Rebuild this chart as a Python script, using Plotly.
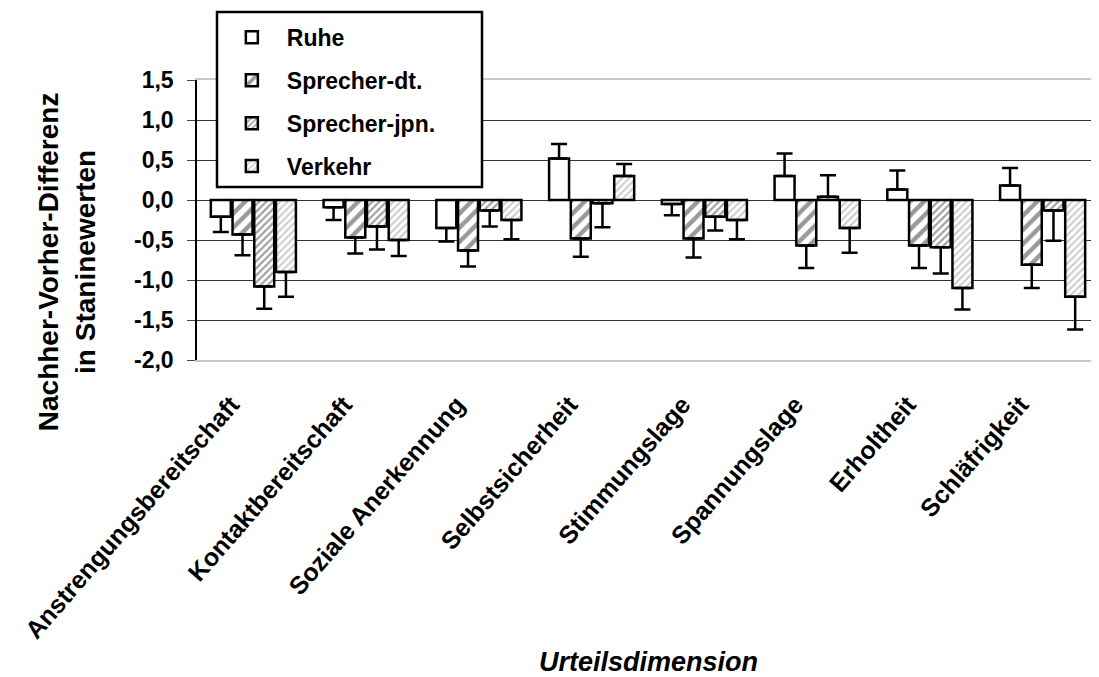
import plotly.graph_objects as go

categories = ["Anstrengungsbereitschaft", "Kontaktbereitschaft", "Soziale Anerkennung",
              "Selbstsicherheit", "Stimmungslage", "Spannungslage", "Erholtheit", "Schläfrigkeit"]

series_names = ["Ruhe", "Sprecher-dt.", "Sprecher-jpn.", "Verkehr"]

ruhe = [-0.21, -0.09, -0.35, 0.52, -0.05, 0.30, 0.13, 0.18]
ruhe_err = [0.19, 0.16, 0.17, 0.18, 0.14, 0.28, 0.24, 0.22]

sprecher_dt = [-0.43, -0.47, -0.63, -0.48, -0.48, -0.57, -0.57, -0.81]
sprecher_dt_err = [0.26, 0.20, 0.20, 0.23, 0.24, 0.28, 0.28, 0.29]

sprecher_jpn = [-1.08, -0.33, -0.13, -0.04, -0.21, 0.04, -0.59, -0.13]
sprecher_jpn_err = [0.28, 0.29, 0.20, 0.30, 0.17, 0.27, 0.33, 0.38]

verkehr = [-0.90, -0.50, -0.25, 0.30, -0.25, -0.35, -1.10, -1.21]
verkehr_err = [0.31, 0.20, 0.24, 0.15, 0.24, 0.31, 0.27, 0.41]

y_ticks = [1.5, 1.0, 0.5, 0.0, -0.5, -1.0, -1.5, -2.0]
y_tick_labels = ["1,5", "1,0", "0,5", "0,0", "-0,5", "-1,0", "-1,5", "-2,0"]

FONT = "Liberation Sans, Arial, sans-serif"

patterns = [
    dict(shape=""),
    dict(shape="/", size=10, solidity=0.45, fgcolor="#333333", bgcolor="white"),
    dict(shape="/", size=5, solidity=0.45, fgcolor="#444444", bgcolor="white"),
    dict(shape="/", size=5, solidity=0.45, fgcolor="#a0a0a0", bgcolor="white"),
]

values = [ruhe, sprecher_dt, sprecher_jpn, verkehr]
errors = [ruhe_err, sprecher_dt_err, sprecher_jpn_err, verkehr_err]

fig = go.Figure()
for name, vals, errs, pat in zip(series_names, values, errors, patterns):
    plus = [e if v >= 0 else 0 for v, e in zip(vals, errs)]
    minus = [e if v < 0 else 0 for v, e in zip(vals, errs)]
    fig.add_trace(go.Bar(
        name=name, x=categories, y=vals, legendgroup=name,
        marker=dict(color="white", line=dict(color="black", width=2.5), pattern=pat),
        error_y=dict(type="data", symmetric=False, array=plus, arrayminus=minus,
                     color="black", thickness=2.5, width=8),
    ))

# The page body has an 8px margin, so the figure is drawn 8px smaller/offset.
fig.update_layout(
    width=1091, height=669,
    margin=dict(l=189, r=0, t=72, b=317),
    paper_bgcolor="white", plot_bgcolor="white",
    barmode="group", bargap=0.23, bargroupgap=0.08,
    font=dict(family=FONT, size=23, color="black"),
    showlegend=True,
    legend=dict(
        x=0.022, y=1.229, xanchor="left", yanchor="top",
        borderwidth=0, bgcolor="rgba(0,0,0,0)",
        font=dict(family=FONT, size=23, color="black", weight="bold"),
        tracegroupgap=10, itemwidth=60,
    ),
)

# legend frame
fig.add_shape(
    type="rect", xref="paper", yref="paper",
    x0=(217 - 197) / 902, x1=(482 - 197) / 902,
    y0=(360 - 187) / 280, y1=(360 - 12) / 280,
    line=dict(color="black", width=2.5), fillcolor="white", layer="above",
)

fig.update_xaxes(
    showline=True, linecolor="#c8c8c8", linewidth=2, mirror=True,
    ticks="", tickangle=-49, showgrid=False,
    ticklabelstandoff=18, ticklabelshift=-22,
    tickfont=dict(family=FONT, size=25, color="black", weight="bold"),
)
fig.update_yaxes(
    range=[-2.0, 1.5], tickvals=y_ticks, ticktext=y_tick_labels,
    showgrid=True, gridcolor="#333333", gridwidth=1, zeroline=False,
    showline=True, linecolor="black", linewidth=1.5,
    ticks="outside", ticklen=8, tickcolor="#444444", ticklabelstandoff=9,
    tickfont=dict(family=FONT, size=23, color="black", weight="bold"),
)

fig.add_annotation(
    xref="paper", yref="paper", x=-0.145, y=0.35, xanchor="center", yanchor="middle",
    text="<b>Nachher-Vorher-Differenz<br>in Staninewerten</b>", textangle=-90, showarrow=False,
    font=dict(family=FONT, size=28, color="black"),
)
fig.add_annotation(
    xref="paper", yref="paper", x=0.5, y=-(662 - 360) / 280,
    xanchor="center", yanchor="middle",
    text="<b><i>Urteilsdimension</i></b>", showarrow=False,
    font=dict(family=FONT, size=27, color="black"),
)

fig.write_html("out.html")
